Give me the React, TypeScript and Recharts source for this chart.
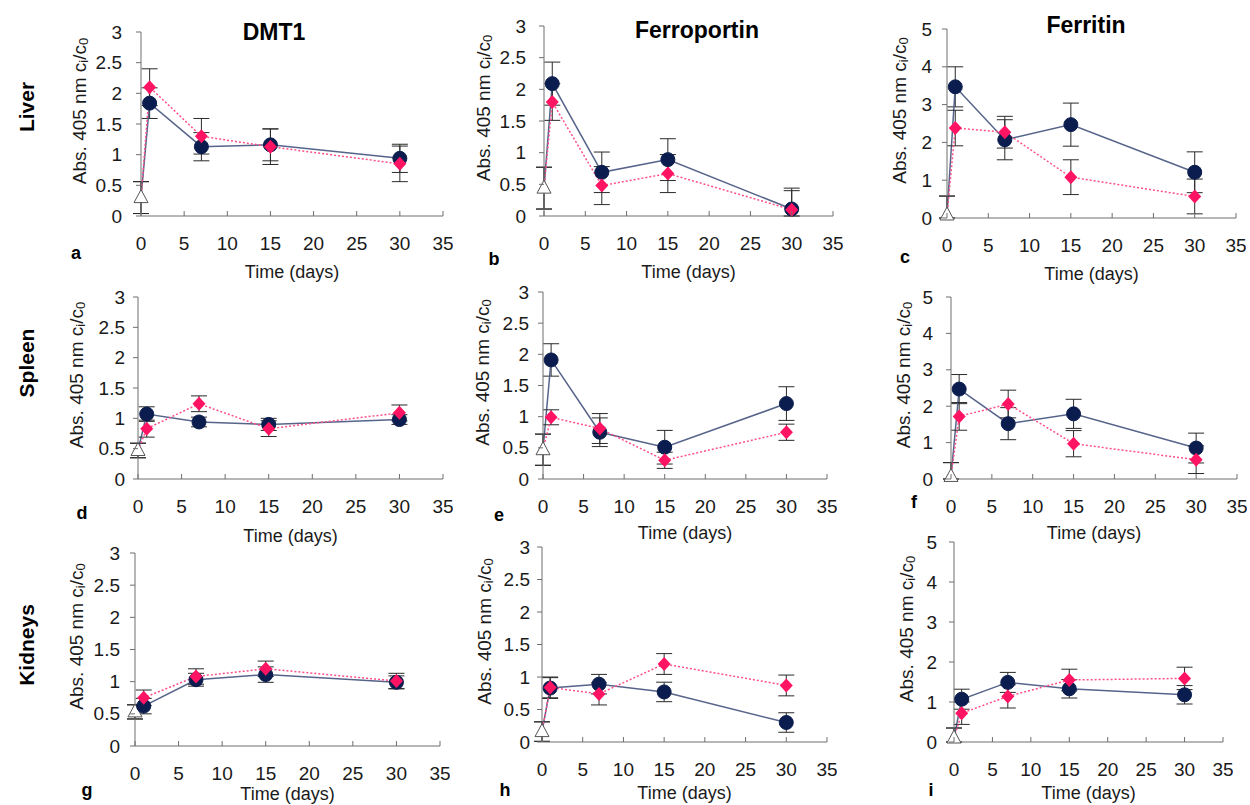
import React from 'react';
import { ComposedChart, Line, Scatter, XAxis, YAxis, ErrorBar } from 'recharts';

// ---------- data ----------
const DAYS = [1, 7, 15, 30];
const X_TICKS = [0, 5, 10, 15, 20, 25, 30, 35];
const Y_TICKS_3 = [0, 0.5, 1, 1.5, 2, 2.5, 3];
const Y_TICKS_5 = [0, 1, 2, 3, 4, 5];
const ORGANS = ['Liver', 'Spleen', 'Kidneys'];
const PROTEINS = ['DMT1', 'Ferroportin', 'Ferritin'];
const PANEL_LETTERS = ['a', 'b', 'c', 'd', 'e', 'f', 'g', 'h', 'i'];

// control (day 0, open triangle) for panels a..i
const CONTROL = [0.3, 0.44, 0.08, 0.47, 0.47, 0.07, 0.53, 0.16, 0.1];
const CONTROL_ERR = [0.26, 0.33, 0.5, 0.12, 0.25, 0.38, 0.11, 0.15, 0.25];

const A_BLUE = [1.84, 1.13, 1.16, 0.94];
const A_BLUE_ERR = [0.25, 0.23, 0.26, 0.23];
const A_PINK = [2.1, 1.3, 1.13, 0.85];
const A_PINK_ERR = [0.3, 0.29, 0.29, 0.29];

const B_BLUE = [2.09, 0.69, 0.89, 0.11];
const B_BLUE_ERR = [0.34, 0.32, 0.33, 0.33];
const B_PINK = [1.8, 0.48, 0.67, 0.1];
const B_PINK_ERR = [0.29, 0.3, 0.3, 0.3];

const C_BLUE = [3.47, 2.07, 2.47, 1.21];
const C_BLUE_ERR = [0.53, 0.53, 0.57, 0.54];
const C_PINK = [2.38, 2.27, 1.08, 0.57];
const C_PINK_ERR = [0.47, 0.42, 0.46, 0.46];

const D_BLUE = [1.07, 0.94, 0.9, 0.98];
const D_BLUE_ERR = [0.12, 0.08, 0.1, 0.08];
const D_PINK = [0.83, 1.24, 0.83, 1.09];
const D_PINK_ERR = [0.14, 0.13, 0.13, 0.13];

const E_BLUE = [1.91, 0.75, 0.51, 1.21];
const E_BLUE_ERR = [0.26, 0.23, 0.27, 0.27];
const E_PINK = [0.99, 0.81, 0.3, 0.75];
const E_PINK_ERR = [0.12, 0.24, 0.13, 0.13];

const F_BLUE = [2.47, 1.52, 1.79, 0.85];
const F_BLUE_ERR = [0.4, 0.44, 0.4, 0.41];
const F_PINK = [1.72, 2.06, 0.97, 0.53];
const F_PINK_ERR = [0.38, 0.38, 0.36, 0.38];

const G_BLUE = [0.62, 1.03, 1.11, 0.99];
const G_BLUE_ERR = [0.12, 0.1, 0.12, 0.1];
const G_PINK = [0.75, 1.08, 1.2, 1.01];
const G_PINK_ERR = [0.12, 0.12, 0.12, 0.12];

const H_BLUE = [0.83, 0.89, 0.77, 0.3];
const H_BLUE_ERR = [0.16, 0.15, 0.15, 0.15];
const H_PINK = [0.84, 0.74, 1.2, 0.87];
const H_PINK_ERR = [0.16, 0.17, 0.16, 0.16];

const I_BLUE = [1.07, 1.49, 1.33, 1.18];
const I_BLUE_ERR = [0.25, 0.25, 0.23, 0.23];
const I_PINK = [0.72, 1.14, 1.55, 1.59];
const I_PINK_ERR = [0.28, 0.29, 0.27, 0.28];

const SERIES = [
  [A_BLUE, A_BLUE_ERR, A_PINK, A_PINK_ERR],
  [B_BLUE, B_BLUE_ERR, B_PINK, B_PINK_ERR],
  [C_BLUE, C_BLUE_ERR, C_PINK, C_PINK_ERR],
  [D_BLUE, D_BLUE_ERR, D_PINK, D_PINK_ERR],
  [E_BLUE, E_BLUE_ERR, E_PINK, E_PINK_ERR],
  [F_BLUE, F_BLUE_ERR, F_PINK, F_PINK_ERR],
  [G_BLUE, G_BLUE_ERR, G_PINK, G_PINK_ERR],
  [H_BLUE, H_BLUE_ERR, H_PINK, H_PINK_ERR],
  [I_BLUE, I_BLUE_ERR, I_PINK, I_PINK_ERR],
];

// ---------- layout / style ----------
const FONT = '"Liberation Sans", Arial, sans-serif';
const AXIS = '#6e6e6e';
const NAVY = '#0b1d4e';
const NAVY_LINE = '#56648a';
const PINK = '#ff1464';
const PINK_LINE = '#ff4f8a';
const ERR = '#2a2a2a';

type Geom = { l: number; t: number; r: number; b: number; gap: number; yOff: number; lx: number; ly: number; xl: number };
const GEOMS: Geom[] = [
  { l: 141, t: 32, r: 443, b: 216, gap: 19, yOff: 62, lx: 76, ly: 253, xl: 56 },
  { l: 544, t: 26, r: 833, b: 216, gap: 18, yOff: 61, lx: 494, ly: 259, xl: 56 },
  { l: 947, t: 29, r: 1236, b: 218, gap: 15, yOff: 48, lx: 905, ly: 257, xl: 56 },
  { l: 138, t: 297, r: 443, b: 479, gap: 13, yOff: 62, lx: 82, ly: 513, xl: 57 },
  { l: 543, t: 292, r: 827, b: 479, gap: 14, yOff: 61, lx: 499, ly: 515, xl: 54 },
  { l: 951, t: 297, r: 1237, b: 479, gap: 18, yOff: 48, lx: 914, ly: 502, xl: 54 },
  { l: 135, t: 553, r: 440, b: 746, gap: 15, yOff: 59, lx: 87, ly: 790, xl: 48 },
  { l: 542, t: 547, r: 827, b: 742, gap: 12, yOff: 58, lx: 505, ly: 790, xl: 51 },
  { l: 954, t: 542, r: 1223, b: 742, gap: 17, yOff: 48, lx: 931, ly: 790, xl: 51 },
];

const ML = 90;
const MT = 10;
const MR = 10;
const XH = 70;

const XTick = (props: any) => {
  const { x, payload, axisY } = props;
  return (
    <g>
      <line x1={x} x2={x} y1={axisY} y2={axisY - 5} stroke={AXIS} strokeWidth={1} />
      <text x={x} y={axisY + 27} textAnchor="middle" dominantBaseline="central" fontSize={19} fontFamily={FONT} fill="#1a1a1a">
        {payload.value}
      </text>
    </g>
  );
};

const YTick = (props: any) => {
  const { y, payload, gap } = props;
  return (
    <g>
      <line x1={ML - 5} x2={ML} y1={y} y2={y} stroke={AXIS} strokeWidth={1} />
      <text x={ML - gap} y={y} textAnchor="end" dominantBaseline="central" fontSize={19} fontFamily={FONT} fill="#1a1a1a">
        {payload.value}
      </text>
    </g>
  );
};

const blueDot = (p: any) => {
  if (p.index === 0 || p.cx == null || p.cy == null) return <g key={`b${p.index}`} />;
  return <circle key={`b${p.index}`} cx={p.cx} cy={p.cy} r={7} fill={NAVY} stroke={NAVY} />;
};

const pinkDot = (p: any) => {
  if (p.index === 0 || p.cx == null || p.cy == null) return <g key={`p${p.index}`} />;
  const { cx, cy } = p;
  return <polygon key={`p${p.index}`} points={`${cx},${cy - 7} ${cx + 6.5},${cy} ${cx},${cy + 7} ${cx - 6.5},${cy}`} fill={PINK} />;
};

const Triangle = (p: any) => {
  const { cx, cy } = p;
  if (cx == null || cy == null) return <g />;
  return <polygon points={`${cx},${cy - 8} ${cx + 7},${cy + 5} ${cx - 7},${cy + 5}`} fill="#fff" stroke="#555" strokeWidth={1} />;
};

// error offsets [below, above], lower part clipped at the x axis
const errPair = (v: number, e: number) => [Math.min(e, v), e];

function Panel({ idx }: { idx: number }) {
  const g = GEOMS[idx];
  const [blue, blueErr, pink, pinkErr] = SERIES[idx];
  const plotW = g.r - g.l;
  const plotH = g.b - g.t;
  const isFerritin = idx % 3 === 2;
  const yMax = isFerritin ? 5 : 3;
  const yTicks = isFerritin ? Y_TICKS_5 : Y_TICKS_3;
  const c = CONTROL[idx];
  const ce = CONTROL_ERR[idx];
  const data = [
    { day: 0, blue: c, blueErr: errPair(c, ce), pink: c, pinkErr: errPair(c, ce) },
    ...DAYS.map((d, i) => ({
      day: d,
      blue: blue[i],
      blueErr: errPair(blue[i], blueErr[i]),
      pink: pink[i],
      pinkErr: errPair(pink[i], pinkErr[i]),
    })),
  ];
  const ctrlData = [{ day: 0, ctrl: c }];
  return (
    <div style={{ position: 'absolute', left: g.l - ML, top: g.t - MT }}>
      <ComposedChart width={plotW + ML + MR} height={plotH + MT + XH} data={data} margin={{ top: MT, right: MR, bottom: 0, left: 0 }}>
        <XAxis
          type="number"
          dataKey="day"
          domain={[0, 35]}
          ticks={X_TICKS}
          interval={0}
          height={XH}
          axisLine={{ stroke: AXIS, strokeWidth: 1 }}
          tickLine={false}
          tick={<XTick axisY={MT + plotH} />}
        />
        <YAxis
          type="number"
          domain={[0, yMax]}
          ticks={yTicks}
          interval={0}
          width={ML}
          axisLine={{ stroke: AXIS, strokeWidth: 1 }}
          tickLine={false}
          tick={<YTick gap={g.gap} />}
        />
        <Line dataKey="blue" stroke={NAVY_LINE} strokeWidth={1.5} dot={blueDot} activeDot={false} isAnimationActive={false}>
          <ErrorBar dataKey="blueErr" direction="y" width={8} stroke={ERR} strokeWidth={1} />
        </Line>
        <Line dataKey="pink" stroke={PINK_LINE} strokeWidth={1.5} strokeDasharray="2 2" dot={pinkDot} activeDot={false} isAnimationActive={false}>
          <ErrorBar dataKey="pinkErr" direction="y" width={8} stroke={ERR} strokeWidth={1} />
        </Line>
        <Scatter data={ctrlData} dataKey="ctrl" shape={<Triangle />} isAnimationActive={false} />
      </ComposedChart>
    </div>
  );
}

function Overlay() {
  const titleX = [274, 697, 1086];
  const titleY = [32, 30, 25];
  const rowY = [107, 363, 645];
  return (
    <svg width={1250} height={805} style={{ position: 'absolute', left: 0, top: 0, pointerEvents: 'none' }} fontFamily={FONT}>
      {PROTEINS.map((p, i) => (
        <text key={p} x={titleX[i]} y={titleY[i]} textAnchor="middle" dominantBaseline="central" fontSize={23} fontWeight="bold" fill="#000">
          {p}
        </text>
      ))}
      {ORGANS.map((o, i) => (
        <text key={o} transform={`translate(26,${rowY[i]}) rotate(-90)`} textAnchor="middle" dominantBaseline="central" fontSize={21} fontWeight="bold" fill="#000">
          {o}
        </text>
      ))}
      {GEOMS.map((g, i) => (
        <g key={i}>
          <text x={g.lx} y={g.ly} textAnchor="middle" dominantBaseline="central" fontSize={18} fontWeight="bold" fill="#000">
            {PANEL_LETTERS[i]}
          </text>
          <text x={(g.l + g.r) / 2} y={g.b + g.xl} textAnchor="middle" dominantBaseline="central" fontSize={18} fill="#1a1a1a">
            Time (days)
          </text>
          <text transform={`translate(${g.l - g.yOff},${(g.t + g.b) / 2 - 13}) rotate(-90)`} textAnchor="middle" dominantBaseline="central" fontSize={19} fill="#1a1a1a">
            Abs. 405 nm c<tspan dy={4} fontSize={13}>i</tspan>
            <tspan dy={-4}>/c</tspan>
            <tspan dy={4} fontSize={13}>0</tspan>
          </text>
        </g>
      ))}
    </svg>
  );
}

export default function App() {
  return (
    <div style={{ position: 'absolute', left: 0, top: 0, width: 1250, height: 805, background: '#fff', overflow: 'hidden' }}>
      {GEOMS.map((_, i) => (
        <Panel key={i} idx={i} />
      ))}
      <Overlay />
    </div>
  );
}
